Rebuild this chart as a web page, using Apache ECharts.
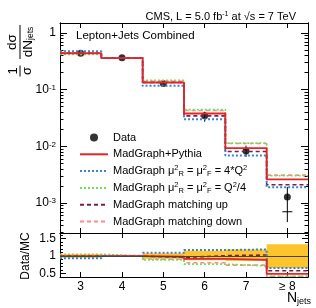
<!DOCTYPE html>
<html><head><meta charset="utf-8">
<script src="https://cdn.jsdelivr.net/npm/echarts@6/dist/echarts.min.js"></script>
<style>html,body{margin:0;padding:0;background:#fff}#c{width:316px;height:308px}</style>
</head><body><div id="c"></div>
<script>
// ---- data ----
const bins = [3, 4, 5, 6, 7, 8];
const binLabels = ['3', '4', '5', '6', '7', '≥ 8'];
const dataVals  = [0.44, 0.367, 0.129, 0.0348, 0.00828, 0.00128];
const dataErrLo = [0.43, 0.36, 0.125, 0.0272, 0.0065, 0.00046];
const dataErrHi = [0.45, 0.375, 0.133, 0.0408, 0.0103, 0.00192];
const dataCrossY = [null, null, null, null, null, 0.0007];
const pythia    = [0.44, 0.36, 0.134, 0.0380, 0.0093, 0.00262];
const scaleUp   = [0.475, 0.363, 0.117, 0.0300, 0.0069, 0.00190];
const scaleDown = [0.42, 0.367, 0.147, 0.0445, 0.0114, 0.00302];
const matchUp   = [0.44, 0.367, 0.134, 0.0345, 0.0081, 0.00210];
const matchDown = [0.44, 0.367, 0.140, 0.0430, 0.0112, 0.00310];
const rPythia    = [1.0, 1.0, 0.98, 0.92, 0.89, 0.49];
const rScaleUp   = [0.94, 1.01, 1.095, 1.17, 1.19, 0.66];
const rScaleDown = [1.05, 1.0, 0.89, 0.77, 0.715, 0.42];
const rMatchUp   = [1.0, 1.0, 0.96, 1.01, 1.03, 0.58];
const rMatchDown = [1.0, 1.0, 0.91, 0.81, 0.74, 0.42];
const bandLo = [0.95, 0.98, 0.92, 0.88, 0.86, 0.66];
const bandHi = [1.05, 1.02, 1.08, 1.15, 1.19, 1.34];
const yMajorTicks = [-3, -2, -1, 0];           // log10 positions of labelled decades
const rMajorTicks = [0.5, 1, 1.5];
const rMinorTicks = [0.6, 0.7, 0.8, 0.9, 1.1, 1.2, 1.3, 1.4, 1.6];

// ---- helpers ----
const L = v => Math.log10(v);
const yMinorTicks = [];
for (let n = -4; n <= 0; n++) for (let k = 2; k <= 9; k++) yMinorTicks.push(Math.log10(k * Math.pow(10, n)));
function step(vals, f) {
  const out = [];
  vals.forEach((v, i) => { out.push([bins[i] - 0.5, f(v)]); out.push([bins[i] + 0.5, f(v)]); });
  return out;
}
const ident = v => v;
const FONT = 'Liberation Sans, Arial, sans-serif';
const COL = { red: '#e3242b', blue: '#3b82d6', green: '#74dc55', dark: '#7a1e45', pink: '#ff8c8c', band: '#fdc42b' };

const names = ['Data', 'MadGraph+Pythia', 'scaleUp', 'scaleDown', 'matchUp', 'matchDown'];
const legendText = {
  'Data': 'Data',
  'MadGraph+Pythia': 'MadGraph+Pythia',
  'scaleUp': 'MadGraph μ{sup|2}{sub|R} = μ{sup|2}{sub|F} = 4*Q{sup|2}',
  'scaleDown': 'MadGraph μ{sup|2}{sub|R} = μ{sup|2}{sub|F} = Q{sup|2}/4',
  'matchUp': 'MadGraph matching up',
  'matchDown': 'MadGraph matching down'
};

const ymin = -3.53, ymax = 0.177;
const rmin = 0.4, rmax = 1.66;
const axLine = { show: true, onZero: false, lineStyle: { color: '#000', width: 1 } };

function yAx(grid, pos, min, max, ticks, len, labels, fmt) {
  return {
    type: 'value', gridIndex: grid, position: pos, min: min, max: max,
    axisLine: axLine, splitLine: { show: false },
    axisTick: { show: true, inside: true, length: len, customValues: ticks, lineStyle: { color: '#000' } },
    axisLabel: labels ? { show: true, customValues: ticks, formatter: fmt, margin: 4, color: '#000', fontFamily: FONT, fontSize: 12,
      rich: { b: { fontSize: 12, fontFamily: FONT, color: '#000' }, s: { fontSize: 8, lineHeight: 6, verticalAlign: 'top', fontFamily: FONT, color: '#000' } } } : { show: false }
  };
}
function xAx(grid, pos, labels) {
  return {
    type: 'value', gridIndex: grid, position: pos, min: 2.5, max: 8.5,
    axisLine: axLine, splitLine: { show: false },
    axisTick: { show: true, inside: true, length: 5, customValues: bins, lineStyle: { color: '#000' } },
    axisLabel: labels ? { show: true, customValues: bins, margin: 4, color: '#000', fontFamily: FONT, fontSize: 12,
      formatter: v => binLabels[bins.indexOf(Math.round(v))] } : { show: false }
  };
}
const logFmt = v => { const r = Math.round(v); return r === 0 ? '{b|1}' : '{b|10}{s|' + r + '}'; };

function lineSeries(data, color, width, type, xi, yi, legendName) {
  return {
    type: 'line', name: legendName, xAxisIndex: xi, yAxisIndex: yi, data: data, symbol: 'none',
    silent: true, animation: false, clip: true,
    lineStyle: { color: color, width: width, type: type }, itemStyle: { color: color }
  };
}

const series = [];
// ratio band
series.push({
  type: 'custom', xAxisIndex: 2, yAxisIndex: 4, animation: false, silent: true,
  data: bins.map((b, i) => [b, bandLo[i], bandHi[i]]),
  renderItem: (p, api) => {
    const a = api.coord([api.value(0) - 0.5, api.value(2)]);
    const b = api.coord([api.value(0) + 0.5, api.value(1)]);
    return { type: 'rect', shape: { x: a[0], y: a[1], width: b[0] - a[0], height: b[1] - a[1] }, style: { fill: COL.band } };
  },
  markLine: { silent: true, symbol: 'none', label: { show: false }, animation: false,
    lineStyle: { color: '#444', width: 1, type: 'solid' }, data: [{ yAxis: 1 }] }
});
const models = [
  ['matchDown', matchDown, rMatchDown, COL.pink, 1.6, [4, 3]],
  ['scaleDown', scaleDown, rScaleDown, COL.green, 1.6, [2, 2]],
  ['matchUp', matchUp, rMatchUp, COL.dark, 1.6, [4, 3]],
  ['scaleUp', scaleUp, rScaleUp, COL.blue, 2, [2, 2]],
  ['MadGraph+Pythia', pythia, rPythia, COL.red, 1.8, 'solid']
];
models.forEach(m => {
  series.push(lineSeries(step(m[1], L), m[3], m[4], m[5], 0, 0, m[0]));
  series.push(lineSeries(step(m[2], ident), m[3], m[4], m[5], 2, 4, m[0]));
});
// data error bars
series.push({
  type: 'custom', xAxisIndex: 0, yAxisIndex: 0, animation: false, silent: true,
  data: bins.map((b, i) => [b, L(dataErrLo[i]), L(dataErrHi[i]), dataCrossY[i] == null ? NaN : L(dataCrossY[i])]),
  renderItem: (p, api) => {
    const x = api.value(0);
    const lo = api.coord([x, api.value(1)]), hi = api.coord([x, api.value(2)]);
    const ch = [{ type: 'line', shape: { x1: lo[0], y1: lo[1], x2: hi[0], y2: hi[1] }, style: { stroke: '#000', lineWidth: 1 } }];
    const cy = api.value(3);
    if (!isNaN(cy)) {
      const c = api.coord([x, cy]);
      ch.push({ type: 'line', shape: { x1: c[0] - 5, y1: c[1], x2: c[0] + 5, y2: c[1] }, style: { stroke: '#000', lineWidth: 1 } });
    }
    return { type: 'group', children: ch };
  }
});
series.push({
  type: 'scatter', name: 'Data', xAxisIndex: 0, yAxisIndex: 0, symbol: 'circle', symbolSize: 7,
  itemStyle: { color: '#000' }, animation: false, silent: true,
  data: bins.map((b, i) => [b, L(dataVals[i])])
});

const option = {
  animation: false,
  backgroundColor: '#fff',
  title: {
    text: 'CMS, L = 5.0 fb{s|-1} at √s = 7 TeV', right: 15, top: 6,
    textStyle: { fontFamily: FONT, fontSize: 11, fontWeight: 'normal', color: '#000',
      rich: { s: { fontSize: 7, lineHeight: 5, verticalAlign: 'top', fontFamily: FONT, color: '#000' } } }
  },
  grid: [
    { left: 60, top: 23, width: 248, height: 210, containLabel: false },
    { left: 60, top: 233, width: 248, height: 44, containLabel: false }
  ],
  xAxis: [xAx(0, 'bottom', false), xAx(0, 'top', false), xAx(1, 'bottom', true), xAx(1, 'top', false)],
  yAxis: [
    yAx(0, 'left', ymin, ymax, yMajorTicks, 7, true, logFmt),
    yAx(0, 'left', ymin, ymax, yMinorTicks, 3.5, false),
    yAx(0, 'right', ymin, ymax, yMajorTicks, 7, false),
    yAx(0, 'right', ymin, ymax, yMinorTicks, 3.5, false),
    yAx(1, 'left', rmin, rmax, rMajorTicks, 6, true, v => '{b|' + v + '}'),
    yAx(1, 'left', rmin, rmax, rMinorTicks, 3, false),
    yAx(1, 'right', rmin, rmax, rMajorTicks, 6, false),
    yAx(1, 'right', rmin, rmax, rMinorTicks, 3, false)
  ],
  legend: {
    orient: 'vertical', left: 74, top: 125.5, itemWidth: 28, itemHeight: 8, itemGap: 2.8,
    selectedMode: false,
    data: names.map(n => n === 'Data'
      ? { name: n, icon: 'circle', itemStyle: { color: '#000' } }
      : { name: n, itemStyle: { opacity: 0 } }),
    formatter: n => legendText[n],
    textStyle: { fontFamily: FONT, fontSize: 11, color: '#000', lineHeight: 14,
      rich: {
        sup: { fontSize: 7.5, lineHeight: 6, verticalAlign: 'top', fontFamily: FONT, color: '#000' },
        sub: { fontSize: 7.5, lineHeight: 6, verticalAlign: 'bottom', fontFamily: FONT, color: '#000' }
      } }
  },
  graphic: [
    { type: 'text', x: 76, y: 36, style: { text: 'Lepton+Jets Combined', fontFamily: FONT, fontSize: 11.5, fill: '#000', textVerticalAlign: 'middle' } },
    { type: 'group', x: 20, y: 77, rotation: Math.PI / 2, children: [
      { type: 'text', x: 6, y: -0.5, style: { text: '1', fontFamily: FONT, fontSize: 13, fill: '#000', textAlign: 'center', textVerticalAlign: 'bottom' } },
      { type: 'line', shape: { x1: 0.5, y1: 0, x2: 11.5, y2: 0 }, style: { stroke: '#000', lineWidth: 1 } },
      { type: 'text', x: 6, y: 0.5, style: { text: 'σ', fontFamily: FONT, fontSize: 13, fill: '#000', textAlign: 'center', textVerticalAlign: 'top' } },
      { type: 'text', x: 35, y: -0.5, style: { text: 'dσ', fontFamily: FONT, fontSize: 13.5, fill: '#000', textAlign: 'center', textVerticalAlign: 'bottom' } },
      { type: 'line', shape: { x1: 18, y1: 0, x2: 52, y2: 0 }, style: { stroke: '#000', lineWidth: 1 } },
      { type: 'text', x: 35, y: 0.5, style: { text: '{n|dN}{s|jets}', textAlign: 'center', textVerticalAlign: 'top',
        rich: { n: { fontFamily: FONT, fontSize: 13.5, fill: '#000', lineHeight: 15 }, s: { fontFamily: FONT, fontSize: 8.5, fill: '#000', lineHeight: 7, verticalAlign: 'bottom' } } } }
    ] },
    { type: 'text', x: 26, y: 256, rotation: Math.PI / 2, style: { text: 'Data/MC', fontFamily: FONT, fontSize: 12, fill: '#000', textAlign: 'center', textVerticalAlign: 'middle' } },
    { type: 'text', x: 311, y: 298, style: { text: '{n|N}{s|jets}', textAlign: 'right', textVerticalAlign: 'middle',
      rich: { n: { fontFamily: FONT, fontSize: 14, fill: '#000', lineHeight: 16 }, s: { fontFamily: FONT, fontSize: 9, fill: '#000', lineHeight: 8, verticalAlign: 'bottom' } } } }
  ],
  series: series
};
const chart = echarts.init(document.getElementById('c'), null, { renderer: 'canvas' });
chart.setOption(option);
</script></body></html>
